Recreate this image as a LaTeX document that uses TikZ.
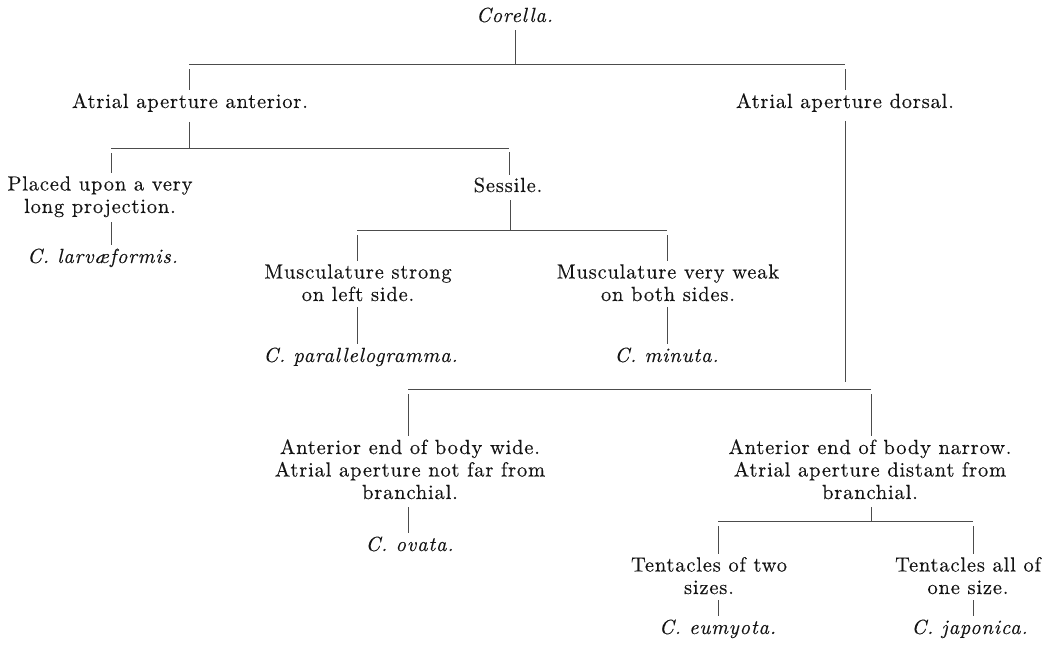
\documentclass[tikz,border=0pt]{standalone}
\usepackage{fontspec}
\setmainfont{lmroman10-regular.otf}[ItalicFont=lmroman10-italic.otf,BoldFont=lmroman10-bold.otf,LetterSpace=4,FakeBold=0.3]
\begin{document}
\begin{tikzpicture}[x=1pt,y=-1pt,
  txt/.style={inner sep=0pt,outer sep=0pt,anchor=base,align=center,text=black!92,
    font=\fontsize{20.5}{22.5}\selectfont},
  ln/.style={draw=black!70,line width=0.7pt}]
\useasboundingbox (0,0) rectangle (1060,648);
% nodes (base = baseline of the last line)
\node[txt] (cor) at (515,22) {\textit{Corella.}};
\node[txt] (ant) at (190,108) {Atrial aperture anterior.};
\node[txt] (dor) at (845,108) {Atrial aperture dorsal.};
\node[txt] (pla) at (100,213) {Placed upon a very\\long projection.};
\node[txt] (lar) at (103,263) {\textit{C. larvæformis.}};
\node[txt] (ses) at (508,192) {Sessile.};
\node[txt] (mus1) at (358,301) {Musculature strong\\on left side.};
\node[txt] (par) at (361,362) {\textit{C. parallelogramma.}};
\node[txt] (mus2) at (668,301) {Musculature very weak\\on both sides.};
\node[txt] (min) at (667,362) {\textit{C. minuta.}};
\node[txt] (aew) at (410,499) {Anterior end of body wide.\\Atrial aperture not far from\\branchial.};
\node[txt] (ova) at (410,551) {\textit{C. ovata.}};
\node[txt] (aen) at (870,499) {Anterior end of body narrow.\\Atrial aperture distant from\\branchial.};
\node[txt] (ten1) at (709,594) {Tentacles of two\\sizes.};
\node[txt] (eum) at (718,634) {\textit{C. eumyota.}};
\node[txt] (ten2) at (968,594) {Tentacles all of\\one size.};
\node[txt] (jap) at (970,634) {\textit{C. japonica.}};
% junction coordinates
\coordinate (j1) at (515,64);
\coordinate (b1l) at (189,64);
\coordinate (b1r) at (845,64);
\coordinate (j2) at (189,148);
\coordinate (b2l) at (111,148);
\coordinate (b2r) at (509,148);
\coordinate (j3) at (510,230);
\coordinate (b3l) at (357,230);
\coordinate (b3r) at (667,230);
\coordinate (d4) at (845,382);
\coordinate (b4l) at (408,389);
\coordinate (b4r) at (871,389);
\coordinate (j5) at (871,521);
\coordinate (b5l) at (718,521);
\coordinate (b5r) at (973,521);
% level 1
\draw[ln,shorten <=8pt] (j1 |- cor.south) -- (j1);
\draw[ln] (b1l) -- (b1r);
\draw[ln,shorten >=3pt] ([yshift=-5pt]b1l) -- (b1l |- ant.north);
\draw[ln,shorten >=3pt] ([yshift=-5pt]b1r) -- (b1r |- dor.north);
% anterior branch
\draw[ln,shorten <=10pt] (j2 |- ant.south) -- (j2);
\draw[ln] (b2l) -- (b2r);
\draw[ln,shorten >=3pt] ([yshift=-5pt]b2l) -- (b2l |- pla.north);
\draw[ln,shorten >=3pt] ([yshift=-4pt]b2r) -- (b2r |- ses.north);
\draw[ln,shorten <=5pt,shorten >=4pt] (b2l |- pla.south) -- (b2l |- lar.north);
% sessile
\draw[ln,shorten <=8pt] (j3 |- ses.south) -- (j3);
\draw[ln] (b3l) -- (b3r);
\draw[ln,shorten >=3pt] ([yshift=-5pt]b3l) -- (b3l |- mus1.north);
\draw[ln,shorten >=3pt] ([yshift=-5pt]b3r) -- (b3r |- mus2.north);
\draw[ln,shorten <=6pt,shorten >=4pt] (b3l |- mus1.south) -- (b3l |- par.north);
\draw[ln,shorten <=6pt,shorten >=4pt] (b3r |- mus2.south) -- (b3r |- min.north);
% dorsal branch
\draw[ln,shorten <=9pt] (d4 |- dor.south) -- (d4);
\draw[ln] (b4l) -- (b4r);
\draw[ln,shorten >=3pt] ([yshift=-5pt]b4l) -- (b4l |- aew.north);
\draw[ln,shorten >=3pt] ([yshift=-5pt]b4r) -- (b4r |- aen.north);
\draw[ln,shorten <=8pt,shorten >=4pt] (b4l |- aew.south) -- (b4l |- ova.north);
\draw[ln,shorten <=8pt] (j5 |- aen.south) -- (j5);
\draw[ln] (b5l) -- (b5r);
\draw[ln,shorten >=3pt] ([yshift=-5pt]b5l) -- (b5l |- ten1.north);
\draw[ln,shorten >=3pt] ([yshift=-5pt]b5r) -- (b5r |- ten2.north);
\draw[ln,shorten <=6pt,shorten >=4pt] (b5l |- ten1.south) -- (b5l |- eum.north);
\draw[ln,shorten <=6pt,shorten >=4pt] (b5r |- ten2.south) -- (b5r |- jap.north);
\end{tikzpicture}
\end{document}
